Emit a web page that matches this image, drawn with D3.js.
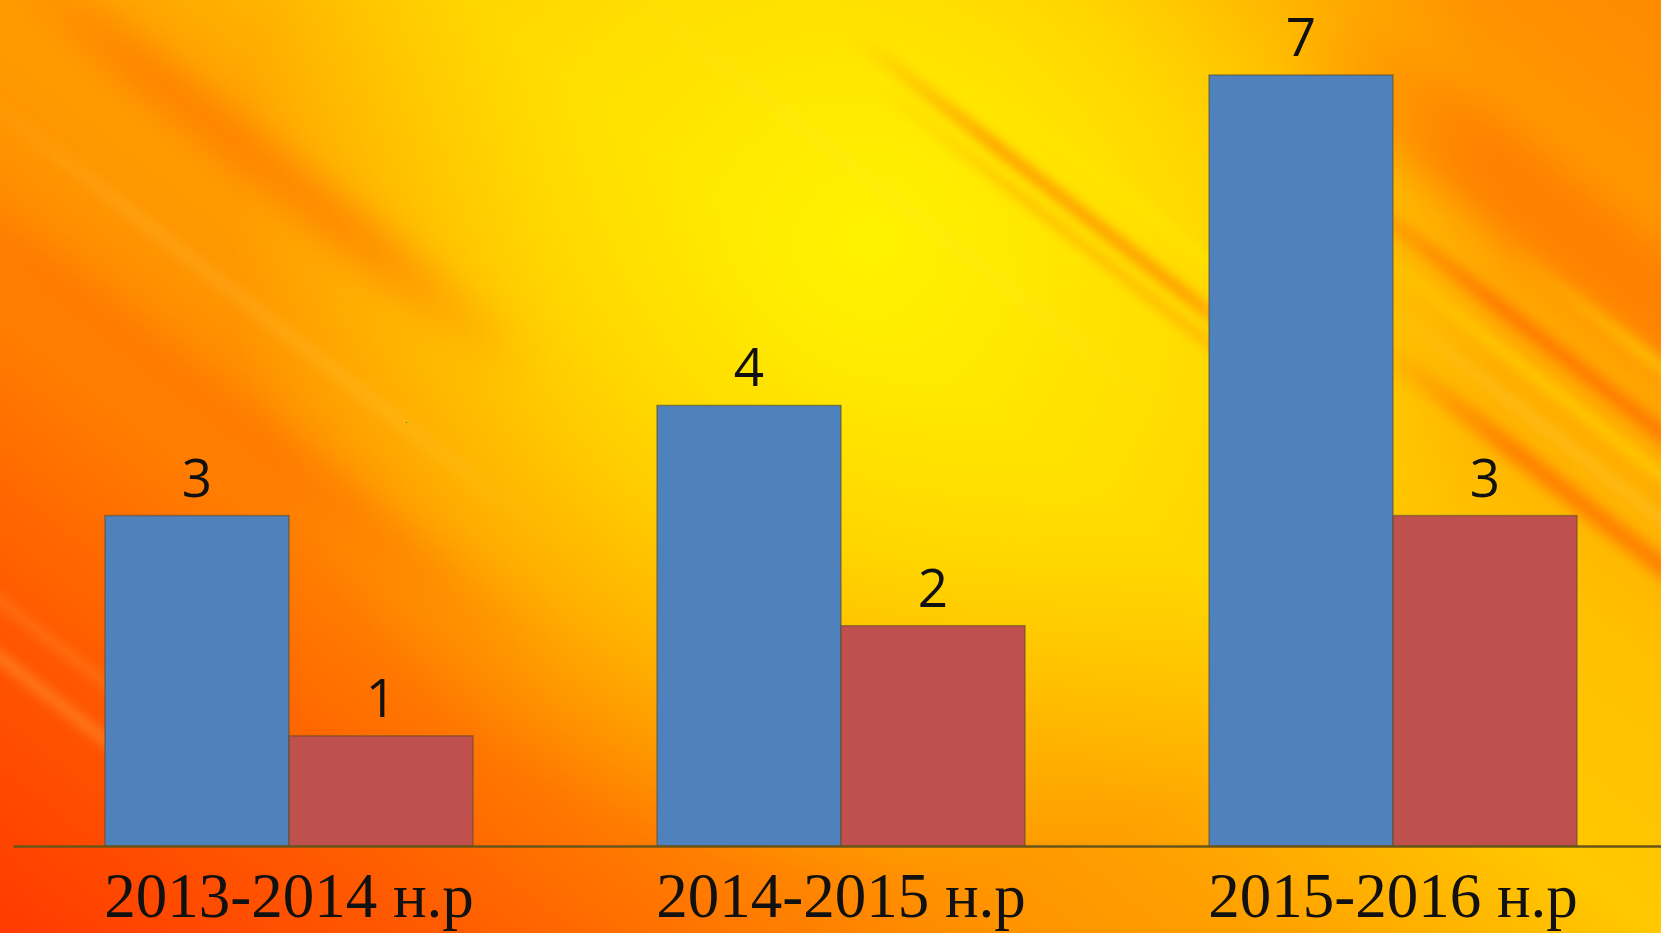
<!DOCTYPE html>
<html>
<head>
<meta charset="utf-8">
<script src="https://cdn.jsdelivr.net/npm/d3@7"></script>
<style>
  html, body { margin: 0; padding: 0; overflow: hidden; }
  svg { display: block; }
</style>
</head>
<body>
<div id="chart"></div>
<script>
// chart data
var categories = ["2013-2014 н.р", "2014-2015 н.р", "2015-2016 н.р"];
var seriesBlue = [3, 4, 7];
var seriesRed = [1, 2, 3];
var seriesColors = ["#4F81BD", "#C0504D"];

var width = 1661;
var height = 933;

var svg = d3.select("#chart")
  .append("svg")
  .attr("width", width)
  .attr("height", height);

var defs = svg.append("defs");

// background: diagonal orange/yellow gradient
var bg = defs.append("linearGradient")
  .attr("id", "bg")
  .attr("gradientUnits", "userSpaceOnUse")
  .attr("x1", 830 - 0.616 * 880).attr("y1", 466 + 0.788 * 880)
  .attr("x2", 830 + 0.616 * 880).attr("y2", 466 - 0.788 * 880);
[["0%", "#ff3a00"], ["15%", "#ff5a00"], ["25%", "#ff7600"], ["35%", "#ff9200"],
 ["45%", "#ffa200"], ["58%", "#ffc800"], ["70%", "#ffc000"], ["85%", "#ff9e00"],
 ["100%", "#ff8a00"]].forEach(function (s) {
  bg.append("stop").attr("offset", s[0]).attr("stop-color", s[1]);
});

var glow = defs.append("radialGradient")
  .attr("id", "glow")
  .attr("gradientUnits", "userSpaceOnUse")
  .attr("cx", 870).attr("cy", 240).attr("r", 640);
glow.append("stop").attr("offset", "0%").attr("stop-color", "#fff500").attr("stop-opacity", 0.95);
glow.append("stop").attr("offset", "50%").attr("stop-color", "#fff000").attr("stop-opacity", 0.6);
glow.append("stop").attr("offset", "100%").attr("stop-color", "#fff000").attr("stop-opacity", 0);

function fade(id, color) {
  var g = defs.append("linearGradient").attr("id", id);
  g.append("stop").attr("offset", "0%").attr("stop-color", color).attr("stop-opacity", 0);
  g.append("stop").attr("offset", "30%").attr("stop-color", color).attr("stop-opacity", 1);
  g.append("stop").attr("offset", "70%").attr("stop-color", color).attr("stop-opacity", 1);
  g.append("stop").attr("offset", "100%").attr("stop-color", color).attr("stop-opacity", 0);
}
fade("fadeDark", "#ff6a00");
fade("fadeLight", "#ffe070");
fade("fadeYellow", "#ffee00");

defs.append("filter").attr("id", "blur").attr("x", "-20%").attr("y", "-200%")
  .attr("width", "140%").attr("height", "500%")
  .append("feGaussianBlur").attr("stdDeviation", 6);
defs.append("filter").attr("id", "blurSoft").attr("x", "-20%").attr("y", "-200%")
  .attr("width", "140%").attr("height", "500%")
  .append("feGaussianBlur").attr("stdDeviation", 18);

svg.append("rect").attr("width", width).attr("height", height).attr("fill", "url(#bg)");
svg.append("rect").attr("width", width).attr("height", height).attr("fill", "url(#glow)");

// decorative streaks, in a frame rotated along the streak direction
var streaks = [
  // [x0, x1, offset, thickness, gradient, opacity, filter]
  [-1000, -300, 111, 40, "fadeDark", 0.6, "blurSoft"],
  [-1000, -100, 332, 40, "fadeDark", 0.5, "blurSoft"],
  [-950, -150, 230, 14, "fadeLight", 0.15, "blur"],
  [-900, -200, 662, 10, "fadeLight", 0.3, "blur"],
  [-900, -250, 617, 8, "fadeLight", 0.2, "blur"],
  [-800, -100, 560, 30, "fadeDark", 0.35, "blurSoft"],
  [-250, 350, -354, 12, "fadeDark", 0.6, "blur"],
  [-200, 400, -330, 6, "fadeDark", 0.5, "blur"],
  [-150, 450, -395, 10, "fadeYellow", 0.5, "blur"],
  [100, 800, -640, 90, "fadeDark", 0.55, "blurSoft"],
  [200, 950, -538, 16, "fadeDark", 0.7, "blur"],
  [250, 950, -505, 8, "fadeYellow", 0.6, "blur"],
  [350, 950, -433, 20, "fadeDark", 0.65, "blur"],
  [300, 950, -470, 6, "fadeLight", 0.35, "blur"],
  [400, 950, -590, 10, "fadeYellow", 0.5, "blur"],
  [-500, 300, -250, 8, "fadeLight", 0.15, "blur"]
];

svg.append("g")
  .attr("transform", "translate(830,466) rotate(38)")
  .selectAll("rect")
  .data(streaks)
  .enter().append("rect")
    .attr("x", function (d) { return d[0]; })
    .attr("width", function (d) { return d[1] - d[0]; })
    .attr("y", function (d) { return d[2] - d[3] / 2; })
    .attr("height", function (d) { return d[3]; })
    .attr("fill", function (d) { return "url(#" + d[4] + ")"; })
    .attr("opacity", function (d) { return d[5]; })
    .attr("filter", function (d) { return "url(#" + d[6] + ")"; });

// scales
var x0 = d3.scaleBand()
  .domain(categories)
  .range([13, 1669])
  .paddingInner(1 / 3)
  .paddingOuter(1 / 6);

var x1 = d3.scaleBand()
  .domain([0, 1])
  .range([0, x0.bandwidth()]);

var y = d3.scaleLinear()
  .domain([0, 7])
  .range([846, 75]);

var rows = categories.map(function (c, i) {
  return { cat: c, values: [seriesBlue[i], seriesRed[i]] };
});

var group = svg.selectAll(".group")
  .data(rows)
  .enter().append("g")
    .attr("class", "group")
    .attr("transform", function (d) { return "translate(" + x0(d.cat) + ",0)"; });

group.selectAll("rect")
  .data(function (d) { return d.values.map(function (v, k) { return { k: k, v: v }; }); })
  .enter().append("rect")
    .attr("x", function (d) { return x1(d.k); })
    .attr("y", function (d) { return y(d.v); })
    .attr("width", x1.bandwidth())
    .attr("height", function (d) { return y(0) - y(d.v); })
    .attr("fill", function (d) { return seriesColors[d.k]; })
    .attr("stroke", "rgba(90,75,40,0.55)")
    .attr("stroke-width", 1.5);

group.selectAll("text")
  .data(function (d) { return d.values.map(function (v, k) { return { k: k, v: v }; }); })
  .enter().append("text")
    .attr("x", function (d) { return x1(d.k) + x1.bandwidth() / 2; })
    .attr("y", function (d) { return y(d.v) - 19; })
    .attr("text-anchor", "middle")
    .style("font-family", "'Open Sans', 'Noto Sans', sans-serif")
    .style("font-size", "53px")
    .style("fill", "#111")
    .text(function (d) { return d.v; });

// x axis
var axis = svg.append("g")
  .attr("transform", "translate(0," + y(0) + ")")
  .call(d3.axisBottom(x0).tickSize(0).tickSizeOuter(0));

axis.select(".domain")
  .attr("stroke", "#6b5418")
  .attr("stroke-width", 2.5);

axis.selectAll("text")
  .attr("y", 71)
  .attr("dy", 0)
  .style("font-family", "'Liberation Serif', 'Times New Roman', serif")
  .style("font-size", "63px")
  .style("fill", "#111");
</script>
</body>
</html>
